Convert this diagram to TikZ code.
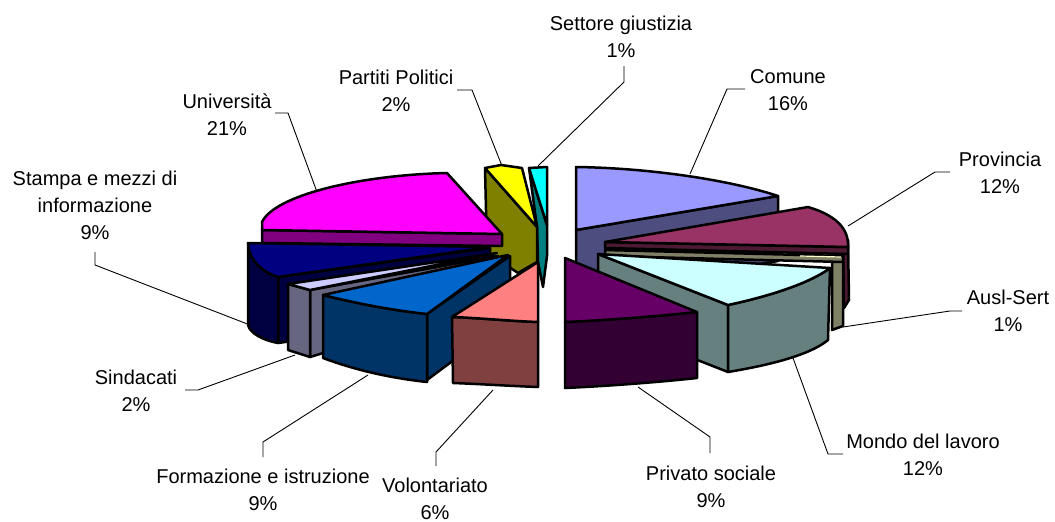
\documentclass[tikz,border=0pt]{standalone}
\usepackage{fontspec}
\setmainfont{Liberation Sans}
\definecolor{cyanT}{HTML}{00FFFF}
\definecolor{tealS}{HTML}{008080}
\definecolor{yellowT}{HTML}{FFFF00}
\definecolor{oliveS}{HTML}{808000}
\definecolor{magentaT}{HTML}{FF00FF}
\definecolor{purpleS}{HTML}{800080}
\definecolor{navyT}{HTML}{000080}
\definecolor{navyS}{HTML}{000040}
\definecolor{lavT}{HTML}{CCCCFF}
\definecolor{lavS}{HTML}{666680}
\definecolor{blueT}{HTML}{0066CC}
\definecolor{blueS}{HTML}{003366}
\definecolor{salmonT}{HTML}{FF8080}
\definecolor{salmonS}{HTML}{804040}
\definecolor{periT}{HTML}{9999FF}
\definecolor{periS}{HTML}{4D4D80}
\definecolor{plumT}{HTML}{993366}
\definecolor{plumS}{HTML}{4D1A33}
\definecolor{creamT}{HTML}{FFFFCC}
\definecolor{creamS}{HTML}{808066}
\definecolor{iceT}{HTML}{CCFFFF}
\definecolor{iceS}{HTML}{668080}
\definecolor{grapeT}{HTML}{660066}
\definecolor{grapeS}{HTML}{330033}
\begin{document}
\begin{tikzpicture}[x=1pt,y=-1pt,
  face/.style={draw=black,line width=2.5pt,line join=round},
  lead/.style={draw=black,line width=0.9pt},
  lab/.style={font=\fontsize{20}{27}\selectfont,align=center,anchor=north,inner sep=0pt}]
\useasboundingbox (0,0) rectangle (1055,522);

% Settore giustizia
\filldraw[face,fill=tealS] (529,168) -- (547,225) -- (547,256) -- (543,287) -- (538,262) -- (537,227) -- cycle;
\filldraw[face,fill=cyanT] (529,168) -- (547,167) -- (547,225) -- cycle;

% Partiti Politici
\filldraw[face,fill=oliveS] (485,168) -- (537,227) -- (537,262) -- (518,273) -- (487,252) -- cycle;
\filldraw[face,fill=yellowT] (485,168) -- (501,165) -- (522,168) -- (537,227) -- cycle;

% Universita
\filldraw[face,fill=purpleS] (262,230) -- (502,234) -- (502,246) -- (262,243) -- cycle;
\filldraw[face,fill=magentaT] (262,230) -- (262,222) .. controls (275,195) and (360,175) .. (447,173) -- (502,234) -- cycle;

% Stampa
\filldraw[face,fill=navyS] (278,277) -- (490,248) -- (490,314) -- (278,343) -- cycle;
\filldraw[face,fill=navyS] (248,243) .. controls (249,260) and (262,272) .. (278,277) -- (278,343) .. controls (262,340) and (250,333) .. (248,325) -- cycle;
\filldraw[face,fill=navyT] (248,243) -- (490,247) -- (278,277) .. controls (262,272) and (249,260) .. (248,243) -- cycle;

% Sindacati
\filldraw[face,fill=lavS] (310,290) -- (498,256) -- (498,300) -- (310,357) -- cycle;
\filldraw[face,fill=lavS] (288,284) -- (310,290) -- (310,357) -- (288,350) -- cycle;
\filldraw[face,fill=lavT] (288,284) -- (497,253) -- (310,290) -- cycle;

% Formazione e istruzione
\filldraw[face,fill=blueS] (427,314) -- (510,256) -- (510,318) -- (427,380) -- cycle;
\filldraw[face,fill=blueS] (323,295) .. controls (355,303) and (390,310) .. (427,314) -- (427,382) .. controls (390,378) and (355,370) .. (323,358) -- cycle;
\filldraw[face,fill=blueT] (323,295) -- (508,255) -- (427,314) .. controls (390,310) and (355,303) .. (323,295) -- cycle;

% Volontariato
\filldraw[face,fill=salmonS] (452,317) .. controls (480,318) and (510,321) .. (538,322) -- (538,387) .. controls (510,386) and (480,384) .. (453,383) -- cycle;
\filldraw[face,fill=salmonT] (538,262) -- (538,322) .. controls (510,321) and (480,318) .. (452,317) -- cycle;

% Comune
\filldraw[face,fill=periS] (576,230) -- (778,196) -- (778,261) -- (576,295) -- cycle;
\filldraw[face,fill=periT] (576,230) -- (576,167) .. controls (650,168) and (730,180) .. (778,196) -- cycle;

% Provincia
\filldraw[face,fill=plumS] (848,240) -- (849,300) -- (844,308) -- (843,248) -- cycle;
\filldraw[face,fill=plumS] (605,242) -- (848,247) -- (848,254) -- (605,248) -- cycle;
\filldraw[face,fill=plumT] (605,242) -- (808,207) .. controls (835,215) and (849,228) .. (848,247) -- cycle;

% Ausl-Sert
\filldraw[face,fill=creamS] (832,258) -- (843,258) -- (843,326) -- (832,330) -- cycle;
\filldraw[face,fill=creamS] (605,250) -- (843,256) -- (843,262) -- (605,256) -- cycle;
\draw[creamT,line width=1.2pt] (800,256) -- (841,257);

% Mondo del lavoro
\filldraw[face,fill=iceS] (598,254) -- (728,305) -- (728,372) -- (598,321) -- cycle;
\filldraw[face,fill=iceS] (830,268) .. controls (810,283) and (770,296) .. (728,305) -- (728,372) .. controls (770,365) and (810,355) .. (828,340) -- cycle;
\filldraw[face,fill=iceT] (598,254) -- (830,268) .. controls (810,283) and (770,296) .. (728,305) -- cycle;

% Privato sociale
\filldraw[face,fill=grapeS] (565,322) .. controls (610,320) and (660,316) .. (697,312) -- (697,378) .. controls (660,382) and (610,386) .. (565,388) -- cycle;
\filldraw[face,fill=grapeT] (565,258) -- (697,312) .. controls (660,316) and (610,320) .. (565,322) -- cycle;

% labels
\node[lab] (lgiu) at (621,15.5) {Settore giustizia\\1\%};
\node[lab] (lpar) at (396,69.5) {Partiti Politici\\2\%};
\node[lab] (lcom) at (788,69.5) {Comune\\16\%};
\node[lab] (lpro) at (1000,151.5) {Provincia\\12\%};
\node[lab] (laus) at (1008,289.5) {Ausl-Sert\\1\%};
\node[lab] (lmon) at (923,433.5) {Mondo del lavoro\\12\%};
\node[lab] (lpri) at (711,465.5) {Privato sociale\\9\%};
\node[lab] (lvol) at (435,477.5) {Volontariato\\6\%};
\node[lab] (lfor) at (263,468.5) {Formazione e istruzione\\9\%};
\node[lab] (lsin) at (136,369.5) {Sindacati\\2\%};
\node[lab] (lsta) at (95,170.5) {Stampa e mezzi di\\informazione\\9\%};
\node[lab] (luni) at (227,93.5) {Università\\21\%};

% leader coordinates
\coordinate (giu0) at (624,66); \coordinate (giu1) at (624,82); \coordinate (giu2) at (538,166);
\coordinate (par0) at (457,90); \coordinate (par1) at (472,90); \coordinate (par2) at (502,166);
\coordinate (com0) at (745,89); \coordinate (com1) at (727,89); \coordinate (com2) at (690,174);
\coordinate (pro0) at (950,172); \coordinate (pro1) at (935,172); \coordinate (pro2) at (848,226);
\coordinate (aus0) at (962,311); \coordinate (aus1) at (950,311); \coordinate (aus2) at (843,327);
\coordinate (mon0) at (843,454); \coordinate (mon1) at (828,454); \coordinate (mon2) at (793,358);
\coordinate (pri0) at (710,453); \coordinate (pri1) at (710,437); \coordinate (pri2) at (638,387);
\coordinate (vol0) at (436,466); \coordinate (vol1) at (436,452); \coordinate (vol2) at (493,390);
\coordinate (for0) at (263,457); \coordinate (for1) at (263,442); \coordinate (for2) at (368,375);
\coordinate (sin0) at (185,390); \coordinate (sin1) at (198,390); \coordinate (sin2) at (295,355);
\coordinate (sta0) at (95,252); \coordinate (sta1) at (95,265); \coordinate (sta2) at (250,325);
\coordinate (uni0) at (275,113); \coordinate (uni1) at (288,113); \coordinate (uni2) at (317,192);
\foreach \k in {giu,par,com,pro,aus,mon,pri,vol,for,sin,sta,uni}
  \draw[lead] (\k0) -- (\k1) -- (\k2);
\end{tikzpicture}
\end{document}
